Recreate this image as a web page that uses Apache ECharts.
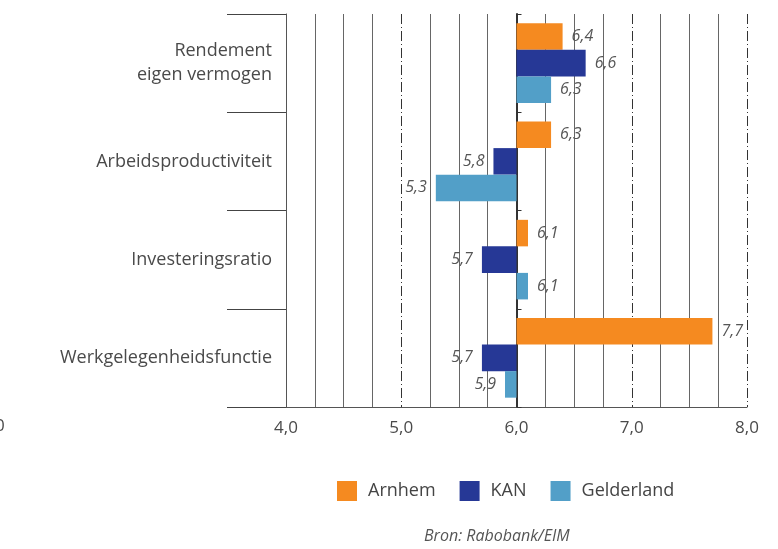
<!DOCTYPE html>
<html>
<head>
<meta charset="utf-8">
<script src="https://cdn.jsdelivr.net/npm/echarts@6/dist/echarts.min.js"></script>
<style>
html,body{margin:0;padding:0;background:#fff;}
#chart{width:778px;height:549px;}
</style>
</head>
<body>
<div id="chart"></div>
<script>
// ---- data ----
var categories = ['Rendement\neigen vermogen', 'Arbeidsproductiviteit', 'Investeringsratio', 'Werkgelegenheidsfunctie'];
var seriesNames = ['Arnhem', 'KAN', 'Gelderland'];
var arnhem = [6.4, 6.3, 6.1, 7.7];
var kan = [6.6, 5.8, 5.7, 5.7];
var gelderland = [6.3, 5.3, 6.1, 5.9];
var baseline = 6.0;
var xTickLabels = ['4,0', '5,0', '6,0', '7,0', '8,0'];
var sourceText = 'Bron: Rabobank/EIM';

// ---- styles ----
var colors = ['#F58A20', '#263896', '#529FC8'];
var FONT = '"Open Sans", "Noto Sans", sans-serif';

function fmt(v) { return v.toFixed(1).replace('.', ','); }

var allValues = [arnhem, kan, gelderland];
var series = [];
allValues.forEach(function (vals, si) {
  var stackId = 's' + si;
  series.push({
    type: 'bar',
    name: '_base' + si,
    stack: stackId,
    silent: true,
    barCategoryGap: '19%',
    barGap: '0%',
    itemStyle: { color: 'transparent' },
    data: vals.map(function (v) { return Math.min(v, baseline); })
  });
  series.push({
    type: 'bar',
    name: seriesNames[si],
    stack: stackId,
    barCategoryGap: '19%',
    barGap: '0%',
    itemStyle: { color: colors[si] },
    data: vals.map(function (v) {
      return {
        value: Math.abs(v - baseline),
        label: { position: v >= baseline ? 'right' : 'left' }
      };
    }),
    label: {
      show: true,
      distance: 9,
      fontFamily: FONT,
      fontStyle: 'italic',
      fontWeight: 'normal',
      fontSize: 16,
      color: '#555',
      formatter: function (p) { return fmt(vals[p.dataIndex]); }
    }
  });
});

var chart = echarts.init(document.getElementById('chart'), null, { renderer: 'canvas' });
chart.setOption({
  animation: false,
  backgroundColor: '#fff',
  grid: { left: 286, right: 31, top: 14, bottom: 142, containLabel: false },
  legend: {
    data: seriesNames,
    left: 332,
    top: 476,
    icon: 'rect',
    itemWidth: 20,
    itemHeight: 20,
    itemGap: 24,
    textStyle: { fontFamily: FONT, fontSize: 18, fontWeight: 'normal', color: '#444', padding: [0, 0, 0, 6] }
  },
  xAxis: [
    {
      type: 'value',
      min: 4, max: 8, interval: 1,
      position: 'bottom',
      axisLine: { show: true, lineStyle: { color: '#555', width: 1 } },
      axisTick: { show: false },
      axisLabel: {
        margin: 13,
        fontFamily: FONT, fontSize: 17, fontWeight: 'normal', color: '#4a4a4a',
        formatter: function (v) { return xTickLabels[Math.round(v - 4)]; }
      },
      splitLine: {
        show: true,
        lineStyle: { color: ['transparent', '#333', 'transparent', '#333', '#333'], width: 1, type: [10, 3, 1, 3] }
      }
    },
    {
      type: 'value',
      min: 4, max: 8, interval: 0.25,
      position: 'bottom',
      axisLine: { show: false },
      axisTick: { show: false },
      axisLabel: { show: false },
      splitLine: {
        show: true,
        lineStyle: { color: ['transparent', '#666', '#666', '#666'], width: 1, type: 'solid' }
      }
    }
  ],
  yAxis: [
    {
      type: 'category',
      data: categories,
      inverse: true,
      position: 'left',
      axisLine: { show: true, lineStyle: { color: '#555', width: 1 } },
      axisTick: { show: true, length: 59, lineStyle: { color: '#444', width: 1 } },
      axisLabel: {
        margin: 14,
        fontFamily: FONT, fontSize: 18, fontWeight: 'normal', color: '#4a4a4a',
        lineHeight: 24, align: 'right'
      },
      splitLine: { show: false }
    },
    {
      type: 'category',
      data: categories,
      inverse: true,
      position: 'left',
      offset: -230.5,
      axisLine: { show: true, lineStyle: { color: '#333', width: 2 } },
      axisTick: { show: true, inside: true, length: 5, lineStyle: { color: '#333', width: 1 } },
      axisLabel: { show: false },
      splitLine: { show: false }
    }
  ],
  series: series,
  graphic: [
    {
      type: 'text', left: 424, top: 528,
      style: { text: sourceText, fontFamily: FONT, fontStyle: 'italic', fontWeight: 'normal', fontSize: 16, fill: '#555' }
    },
    {
      type: 'text', left: -5, top: 418,
      style: { text: '0', fontFamily: FONT, fontWeight: 'normal', fontSize: 17, fill: '#4a4a4a' }
    }
  ]
});
</script>
</body>
</html>
